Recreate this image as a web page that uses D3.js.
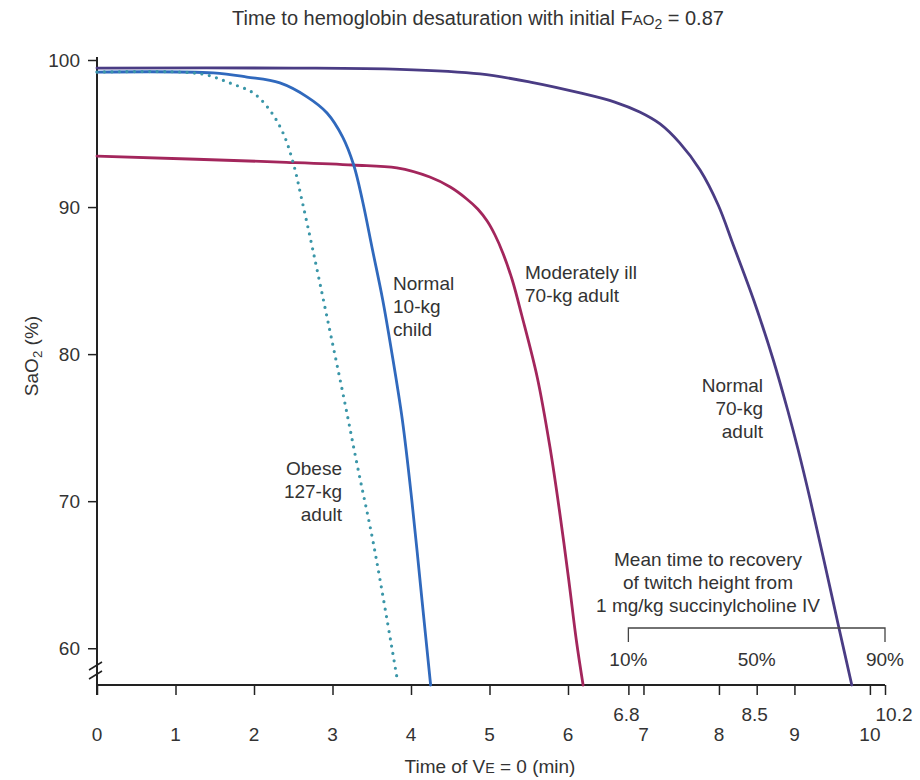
<!DOCTYPE html>
<html>
<head>
<meta charset="utf-8">
<script src="https://cdn.jsdelivr.net/npm/d3@7"></script>
<style>
  body { margin: 0; background: #fff; }
  svg text { font-family: "Liberation Sans", Arial, sans-serif; fill: #333; }
</style>
</head>
<body>
<div class="chart"></div>
<script>
// 数据：时间(min) 与 SaO2(%)
const childTime = [0, 1.48, 1.91, 2.33, 2.68, 2.93, 3.13, 3.27, 3.38, 3.51, 3.64, 3.75, 3.89, 4.01, 4.14, 4.25]
const childSat = [99.18, 99.12, 98.84, 98.44, 97.48, 96.40, 94.76, 92.86, 90.48, 87.08, 83.68, 80.28, 75.52, 70.08, 63.28, 57.5]

const obeseTime = [0, 1.06, 1.40, 1.69, 1.99, 2.20, 2.37, 2.50, 2.61, 2.75, 2.93, 3.15, 3.32, 3.52, 3.82]
const obeseSat = [99.18, 99.18, 98.98, 98.44, 97.76, 96.60, 95.04, 93.0, 90.48, 87.08, 82.52, 76.88, 72.32, 67.16, 58.04]

const illTime = [0, 2.33, 3.26, 3.82, 4.24, 4.50, 4.71, 4.85, 4.97, 5.07, 5.17, 5.29, 5.41, 5.61, 5.77, 5.89, 6.01, 6.11, 6.20]
const illSat = [93.47, 93.06, 92.86, 92.66, 92.04, 91.36, 90.55, 89.87, 89.05, 88.10, 86.88, 85.04, 82.66, 78.38, 73.68, 69.40, 64.64, 60.56, 57.5]

const adultTime = [0, 2.50, 3.86, 4.88, 5.52, 6.16, 6.62, 6.95, 7.22, 7.48, 7.75, 7.99, 8.19, 8.46, 8.72, 8.91, 9.05, 9.21, 9.39, 9.59, 9.76]
const adultSat = [99.45, 99.45, 99.36, 99.05, 98.50, 97.76, 97.14, 96.46, 95.65, 94.36, 92.52, 90.14, 87.42, 83.68, 79.60, 76.20, 73.48, 70.08, 66.0, 61.38, 57.5]

const xTicks = [0, 1, 2, 3, 4, 5, 6, 7, 8, 9, 10]
const xExtraTicks = [6.8, 8.5, 10.2]
const yTicks = [60, 70, 80, 90, 100]

const recoveryTime = [6.8, 8.5, 10.2]
const recoveryLabel = ['10%', '50%', '90%']

const series = [
  { name: 'adult', t: adultTime, v: adultSat, color: '#4a3c84', dash: null },
  { name: 'ill', t: illTime, v: illSat, color: '#a3265c', dash: null },
  { name: 'child', t: childTime, v: childSat, color: '#3069bd', dash: null },
  { name: 'obese', t: obeseTime, v: obeseSat, color: '#3a96a8', dash: '0,7.5' }
]

const labels = [
  { lines: ['Normal', '10-kg', 'child'], x: 393, y: 290, anchor: 'start' },
  { lines: ['Obese', '127-kg', 'adult'], x: 342, y: 475, anchor: 'end' },
  { lines: ['Moderately ill', '70-kg adult'], x: 525, y: 279, anchor: 'start' },
  { lines: ['Normal', '70-kg', 'adult'], x: 763, y: 392, anchor: 'end' },
  { lines: ['Mean time to recovery', 'of twitch height from', '1 mg/kg succinylcholine IV'], x: 708, y: 566, anchor: 'middle' }
]

const width = 920
const height = 780
const fs = 19

const svg = d3.select('.chart').append('svg')
  .attr('width', width)
  .attr('height', height)

// 比例尺 (扫描图有轻微变形，用分段线性)
const x = d3.scaleLinear().domain([0, 6, 10.2]).range([97, 568, 885])
const y = d3.scaleLinear().domain([57.5, 100]).range([685, 60])

// 标题
const title = svg.append('text')
  .attr('x', 478)
  .attr('y', 25)
  .attr('text-anchor', 'middle')
  .style('font-size', '20px')
title.append('tspan').text('Time to hemoglobin desaturation with initial F')
title.append('tspan').style('font-size', '0.75em').text('AO')
title.append('tspan').style('font-size', '0.7em').attr('dy', 4).text('2')
title.append('tspan').attr('dy', -4).text(' = 0.87')

// y 轴
const yAxis = svg.append('g')
  .attr('transform', `translate(${x(0)},0)`)
  .call(d3.axisLeft(y).tickValues(yTicks).tickSize(9).tickPadding(8))
yAxis.select('.domain').remove()
yAxis.selectAll('line').attr('stroke', '#222').attr('stroke-width', 1.5)
yAxis.selectAll('text')
  .style('font-size', fs + 'px')
  .style('font-family', '"Liberation Sans", Arial, sans-serif')
  .attr('fill', '#333')

svg.append('line')
  .attr('x1', x(0)).attr('x2', x(0))
  .attr('y1', y(100) - 3).attr('y2', y(57.5) + 10)
  .attr('stroke', '#222').attr('stroke-width', 2)

// 断轴标记
;[666, 675].forEach(by => {
  svg.append('line')
    .attr('x1', x(0) - 8).attr('y1', by + 4)
    .attr('x2', x(0) + 5).attr('y2', by - 4)
    .attr('stroke', '#222').attr('stroke-width', 1.5)
})

// x 轴
const xAxis = svg.append('g')
  .attr('transform', `translate(0,${y(57.5)})`)
  .call(d3.axisBottom(x).tickValues(xTicks.concat(xExtraTicks)).tickSize(10).tickFormat(''))
xAxis.select('.domain').remove()
xAxis.selectAll('line').attr('stroke', '#222').attr('stroke-width', 1.5)

svg.append('line')
  .attr('x1', x(0)).attr('x2', x(10.2))
  .attr('y1', y(57.5)).attr('y2', y(57.5))
  .attr('stroke', '#222').attr('stroke-width', 2.2)

svg.append('g').selectAll('text').data(xTicks).join('text')
  .attr('x', d => x(d))
  .attr('y', 741)
  .attr('text-anchor', 'middle')
  .style('font-size', fs + 'px')
  .text(d => d)

svg.append('g').selectAll('text').data(xExtraTicks).join('text')
  .attr('x', d => x(d) + (d === 10.2 ? 9 : -2))
  .attr('y', 721)
  .attr('text-anchor', 'middle')
  .style('font-size', fs + 'px')
  .text(d => d.toFixed(1))

// 轴标题
const xTitle = svg.append('text')
  .attr('x', 490)
  .attr('y', 773)
  .attr('text-anchor', 'middle')
  .style('font-size', fs + 'px')
xTitle.append('tspan').text('Time of V')
xTitle.append('tspan').style('font-size', '0.75em').text('E')
xTitle.append('tspan').text(' = 0 (min)')

const yTitle = svg.append('text')
  .attr('transform', 'translate(38,356) rotate(-90)')
  .attr('text-anchor', 'middle')
  .style('font-size', fs + 'px')
yTitle.append('tspan').text('SaO')
yTitle.append('tspan').style('font-size', '0.7em').attr('dy', 4).text('2')
yTitle.append('tspan').attr('dy', -4).text(' (%)')

// 曲线
const line = d3.line()
  .x(d => x(d[0]))
  .y(d => y(d[1]))
  .curve(d3.curveCatmullRom.alpha(0.5))

svg.append('g').selectAll('path').data(series).join('path')
  .attr('d', d => line(d.t.map((t, i) => [t, d.v[i]])))
  .attr('fill', 'none')
  .attr('stroke', d => d.color)
  .attr('stroke-width', d => d.dash ? 3.2 : 2.8)
  .attr('stroke-linecap', 'round')
  .attr('stroke-dasharray', d => d.dash)

// 琥珀胆碱恢复时间括号
const by = 628
svg.append('path')
  .attr('d', `M${x(recoveryTime[0])},${by + 14}V${by}H${x(recoveryTime[2])}V${by + 14}`)
  .attr('fill', 'none')
  .attr('stroke', '#444')
  .attr('stroke-width', 1.3)

svg.append('g').selectAll('text').data(recoveryTime).join('text')
  .attr('x', d => x(d))
  .attr('y', 666)
  .attr('text-anchor', 'middle')
  .style('font-size', fs + 'px')
  .text((d, i) => recoveryLabel[i])

// 曲线标注
labels.forEach(l => {
  const t = svg.append('text')
    .attr('x', l.x)
    .attr('y', l.y)
    .attr('text-anchor', l.anchor)
    .style('font-size', fs + 'px')
  l.lines.forEach((s, i) => {
    t.append('tspan').attr('x', l.x).attr('dy', i === 0 ? 0 : 23).text(s)
  })
})
</script>
</body>
</html>
